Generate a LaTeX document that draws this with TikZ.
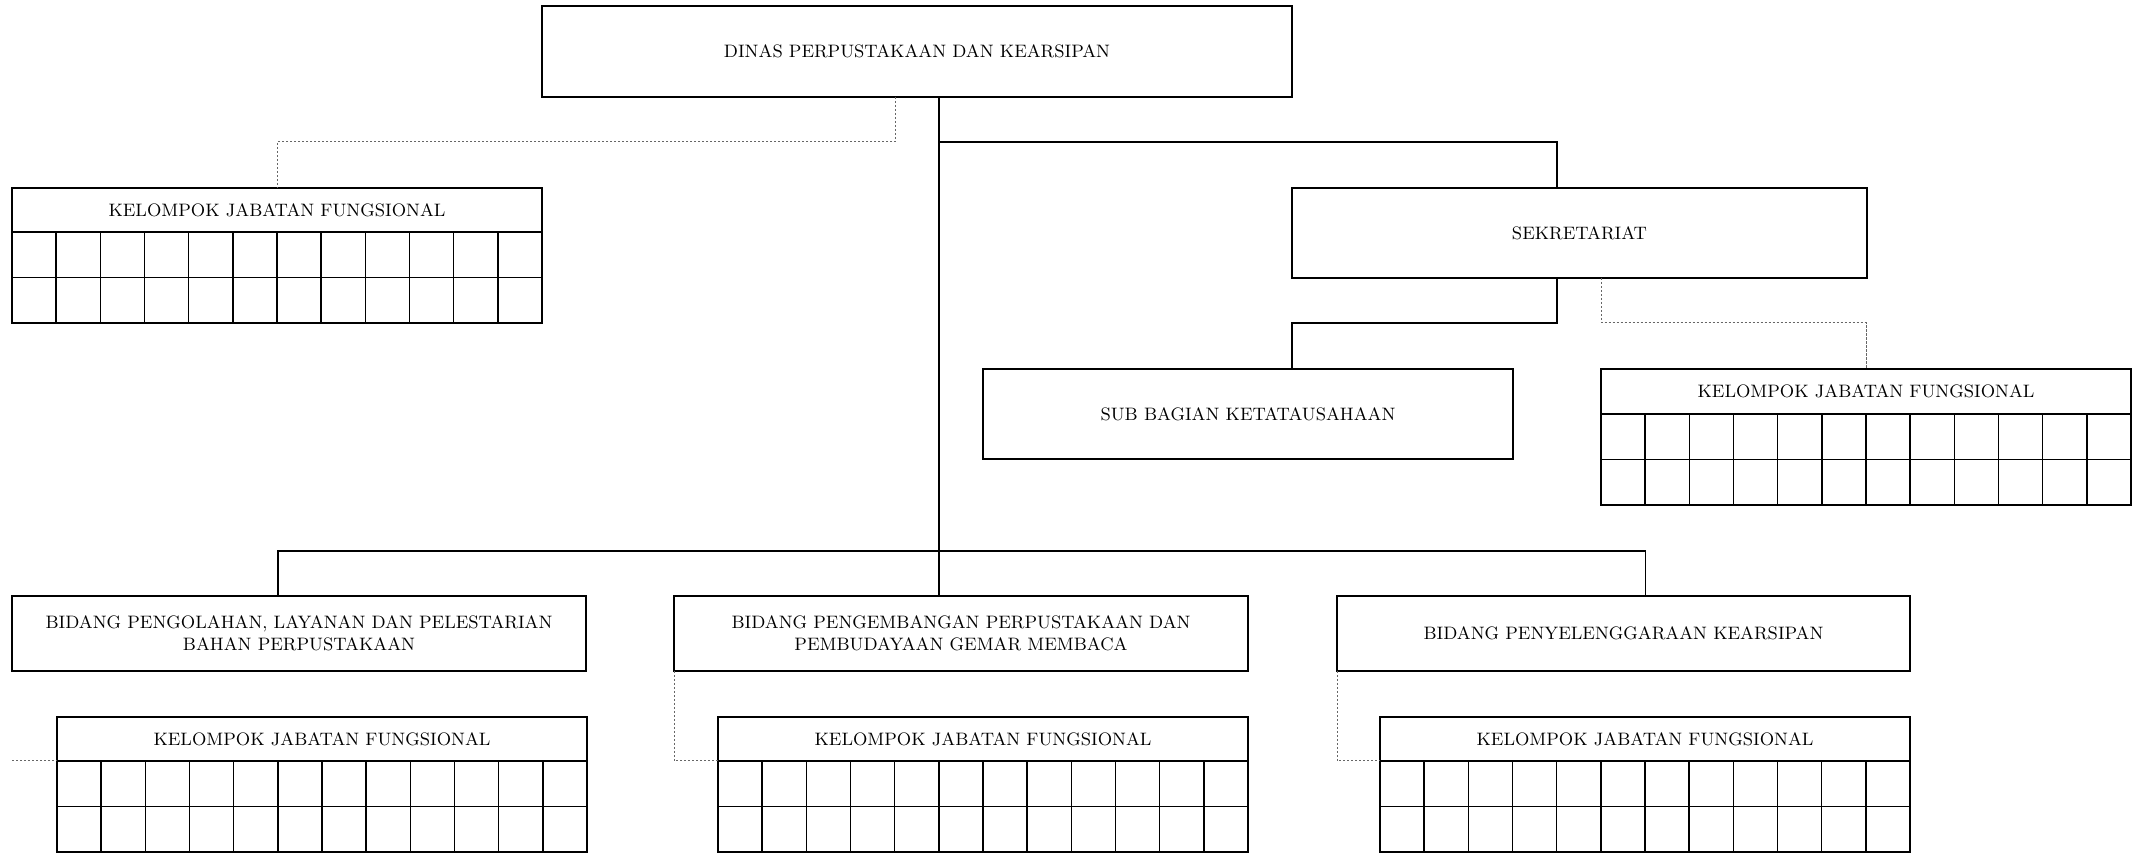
\documentclass[tikz,border=0pt]{standalone}
\usepackage{tikz}
\usetikzlibrary{calc}

% grid of 12 x 2 cells under a header node
\newcommand{\jabgrid}[1]{%
  \draw[cell] (#1.south west) rectangle ($(#1.south east)+(0,91)$);
  \draw[cell] ($(#1.south west)+(0,45.5)$) -- ($(#1.south east)+(0,45.5)$);
  \foreach \c in {1,...,11}
    \draw[cell] ($(#1.south west)!\c/12!(#1.south east)$) -- ++(0,91);
}

\begin{document}
\begin{tikzpicture}[x=0.5pt,y=-0.5pt,
    font=\fontsize{9}{11}\selectfont,
    unit/.style={draw,line width=0.8pt,inner sep=0pt,outer sep=0pt,align=center},
    head/.style={unit,minimum width=265pt,minimum height=22pt},
    cell/.style={line width=0.7pt},
    link/.style={line width=0.6pt},
    opt/.style={black!60,dash pattern=on 1.2pt off 0.8pt,line width=0.5pt}]
  \useasboundingbox (0,0) rectangle (2136,854);

  % top
  \node[unit,minimum width=375pt,minimum height=45.5pt] (dinas) at (917,51.5)
    {DINAS PERPUSTAKAAN DAN KEARSIPAN};
  \node[head] (kjfa) at (277,210) {KELOMPOK JABATAN FUNGSIONAL};
  \jabgrid{kjfa}

  % sekretariat
  \node[unit,minimum width=287.5pt,minimum height=45pt] (sekret) at (1579.5,233)
    {SEKRETARIAT};
  \node[unit,minimum width=265pt,minimum height=45pt] (subbag) at (1248,414)
    {SUB BAGIAN KETATAUSAHAAN};
  \node[head,minimum height=22.5pt] (kjfb) at (1866,391.5) {KELOMPOK JABATAN FUNGSIONAL};
  \jabgrid{kjfb}

  % bidang
  \node[unit,minimum width=287pt,minimum height=37.5pt] (bid1) at (299,633.5)
    {BIDANG PENGOLAHAN, LAYANAN DAN PELESTARIAN\\BAHAN PERPUSTAKAAN};
  \node[unit,minimum width=287pt,minimum height=37.5pt] (bid2) at (961,633.5)
    {BIDANG PENGEMBANGAN PERPUSTAKAAN DAN\\PEMBUDAYAAN GEMAR MEMBACA};
  \node[unit,minimum width=286.5pt,minimum height=37.5pt] (bid3) at (1623.5,633.5)
    {BIDANG PENYELENGGARAAN KEARSIPAN};
  \node[head] (kjf1) at (322,739) {KELOMPOK JABATAN FUNGSIONAL};
  \node[head] (kjf2) at (983,739) {KELOMPOK JABATAN FUNGSIONAL};
  \node[head] (kjf3) at (1645,739) {KELOMPOK JABATAN FUNGSIONAL};
  \jabgrid{kjf1}
  \jabgrid{kjf2}
  \jabgrid{kjf3}

  % lines
  \coordinate (trunk) at ($(dinas.south)+(22,0)$);
  \draw[link,line width=0.8pt] (trunk) -- (trunk |- bid2.north);
  \draw[link] (trunk) ++(0,45) -| ($(sekret.north)+(-22.5,0)$);
  \draw[link] ($(bid1.north)+(-21,0)$) |- ($(bid3.north)+(22,-45)$) -- ($(bid3.north)+(22,0)$);
  \draw[link] ($(sekret.south)+(-22.5,0)$) -- ++(0,45) -| ($(subbag.north)+(44,0)$);
  % dashed lines
  \draw[opt] ($(dinas.south)+(-22,0)$) -- ++(0,45) -| (kjfa.north);
  \draw[opt] ($(sekret.south)+(22,0)$) -- ++(0,45) -| (kjfb.north);
  \draw[opt] (bid1.south west |- kjf1.south west) -- (kjf1.south west);
  \draw[opt] (bid2.south west) |- (kjf2.south west);
  \draw[opt] (bid3.south west) |- (kjf3.south west);
\end{tikzpicture}
\end{document}
